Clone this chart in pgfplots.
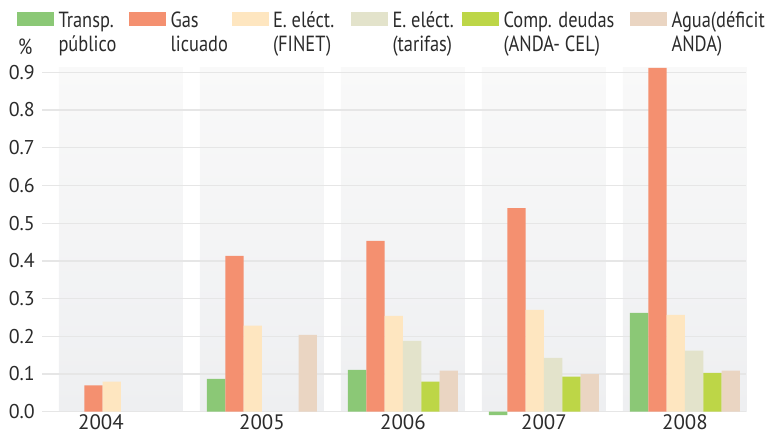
\documentclass[border=0pt]{standalone}
\usepackage{fontspec}
\setmainfont{PT Sans}
\newfontfamily\legfont{PT Sans}[FakeStretch=0.84]
\usepackage{pgfplots}
\pgfplotsset{compat=1.18}
\definecolor{cTr}{HTML}{8BC876}
\definecolor{cGas}{HTML}{F49070}
\definecolor{cFin}{HTML}{FEE6C0}
\definecolor{cTar}{HTML}{E3E3CB}
\definecolor{cComp}{HTML}{BDD647}
\definecolor{cAgua}{HTML}{EAD5C2}
\definecolor{txt}{HTML}{2B2B2B}
\definecolor{bandtop}{HTML}{F9F9F9}
\definecolor{bandbot}{HTML}{EEEFF1}
\definecolor{gridc}{HTML}{E6E6E6}
\begin{document}
\begin{tikzpicture}
\begin{axis}[
  at={(0,0)}, anchor=south west,
  scale only axis, width=704bp, height=348.85bp,
  xmin=-0.56, xmax=4.433, ymin=-0.01, ymax=0.915,
  set layers=standard,
  ybar, bar width=0.13,
  axis line style={draw=none},
  major tick length=0pt,
  ymajorgrids, grid style={line width=1.3bp, color=gridc},
  xtick={0,1,2,3,4},
  xticklabels={2004\hspace*{40bp},2005,2006,2007,2008},
  ytick={0,0.1,0.2,0.3,0.4,0.5,0.6,0.7,0.8,0.9},
  yticklabels={0.0,0.1,0.2,0.3,0.4,0.5,0.6,0.7,0.8,0.9},
  yticklabel style={font=\fontsize{20}{24}\selectfont, text=txt, anchor=east, inner sep=0pt, xshift=-7bp},
  xticklabel style={font=\fontsize{21}{24}\selectfont, text=txt, anchor=north, inner sep=0pt, yshift=1.5bp},
  legend columns=6,
  legend style={at={(axis description cs:-0.0355,1.158)}, anchor=north west, draw=none, fill=none,
     inner sep=0pt, outer sep=0pt, column sep=0pt,
     font=\legfont\fontsize{22}{24}\selectfont, text=txt,
     nodes={inner sep=0pt},
     /tikz/every odd column/.style={column sep=4.5bp}},
  legend cell align=left,
  legend image code/.code={\fill[#1] (0bp,-5bp) rectangle (37bp,9bp);},
]
\begin{pgfonlayer}{axis background}
\fill[top color=bandtop, bottom color=bandbot] (axis cs:-0.44,0) rectangle (axis cs:0.44,0.912);
\fill[top color=bandtop, bottom color=bandbot] (axis cs:0.56,0) rectangle (axis cs:1.44,0.912);
\fill[top color=bandtop, bottom color=bandbot] (axis cs:1.56,0) rectangle (axis cs:2.44,0.912);
\fill[top color=bandtop, bottom color=bandbot] (axis cs:2.56,0) rectangle (axis cs:3.44,0.912);
\fill[top color=bandtop, bottom color=bandbot] (axis cs:3.56,0) rectangle (axis cs:4.44,0.912);
\end{pgfonlayer}
\addplot[fill=cTr, draw=none, bar shift=-0.325] coordinates {(1,0.087) (2,0.111) (3,-0.009) (4,0.262)};
\addplot[fill=cGas, draw=none, bar shift=-0.195] coordinates {(0,0.070) (1,0.413) (2,0.453) (3,0.540) (4,0.912)};
\addplot[fill=cFin, draw=none, bar shift=-0.065] coordinates {(0,0.080) (1,0.228) (2,0.254) (3,0.270) (4,0.257)};
\addplot[fill=cTar, draw=none, bar shift=0.065] coordinates {(2,0.188) (3,0.143) (4,0.162)};
\addplot[fill=cComp, draw=none, bar shift=0.195] coordinates {(2,0.080) (3,0.093) (4,0.103)};
\addplot[fill=cAgua, draw=none, bar shift=0.325] coordinates {(1,0.204) (2,0.109) (3,0.100) (4,0.109)};
\addlegendentry{\makebox[70.5bp][l]{\vtop{\hbox{Transp.}\hbox{público}}}}
\addlegendentry{\makebox[61bp][l]{\vtop{\hbox{Gas}\hbox{licuado}}}}
\addlegendentry{\makebox[78bp][l]{\vtop{\hbox{E. eléct.}\hbox{(FINET)}}}}
\addlegendentry{\makebox[69.5bp][l]{\vtop{\hbox{E. eléct.}\hbox{(tarifas)}}}}
\addlegendentry{\makebox[126.5bp][l]{\vtop{\hbox{Comp. deudas}\hbox{(ANDA- CEL)}}}}
\addlegendentry{\vtop{\hbox{Agua(déficit}\hbox{ANDA)}}}
\end{axis}
\node[anchor=base west, font=\legfont\fontsize{22}{24}\selectfont, text=txt, inner sep=0pt] at (-24bp,360.5bp) {\%};
\pgfresetboundingbox
\useasboundingbox (-42bp,-18.5bp) rectangle (727bp,415.5bp);
\end{tikzpicture}
\end{document}
